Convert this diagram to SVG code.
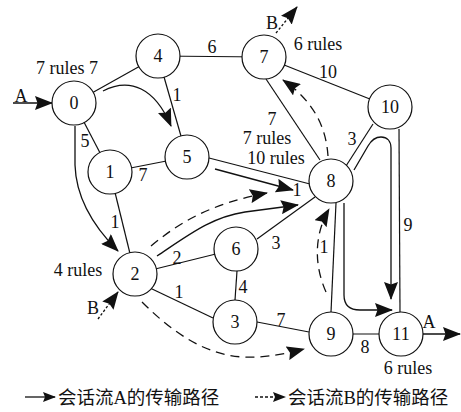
<svg xmlns="http://www.w3.org/2000/svg" width="461" height="412" viewBox="0 0 461 412">
  <style>
    .edge { stroke: #111; stroke-width: 1.2; fill: none; }
    .pa { stroke: #111; stroke-width: 1.3; fill: none; marker-end: url(#arw); }
    .pb { stroke: #111; stroke-width: 1.3; fill: none; stroke-dasharray: 9 6; marker-end: url(#arw); }
    .pbd { stroke: #111; stroke-width: 1.3; fill: none; stroke-dasharray: 2.5 2; marker-end: url(#arw); }
    .node circle { fill: #fff; stroke: #111; stroke-width: 1.2; }
    text { font-family: "Liberation Serif", "DejaVu Serif", "Noto Sans CJK SC", serif; font-size: 18px; fill: #111; }
    .node text { text-anchor: middle; }
    .lbl { text-anchor: middle; }
    .legend text { font-size: 18.5px; }
  </style>
  <defs>
    <marker id="arw" viewBox="0 0 18 14" refX="17" refY="7" markerWidth="18" markerHeight="14" orient="auto" markerUnits="userSpaceOnUse">
      <path d="M0,0 L18,7 L0,14 L2.5,7 z" fill="#111"/>
    </marker>
    <marker id="arwS" viewBox="0 0 13 10" refX="12" refY="5" markerWidth="13" markerHeight="10" orient="auto" markerUnits="userSpaceOnUse">
      <path d="M0,0 L13,5 L0,10 L2,5 z" fill="#111"/>
    </marker>
  </defs>

  <!-- links between routers -->
  <g id="edges">
    <line class="edge" x1="74" y1="103" x2="158" y2="56"/>
    <line class="edge" x1="158" y1="56" x2="264" y2="57"/>
    <line class="edge" x1="158" y1="56" x2="187" y2="157"/>
    <line class="edge" x1="74" y1="103" x2="110" y2="172"/>
    <line class="edge" x1="110" y1="172" x2="187" y2="157"/>
    <line class="edge" x1="110" y1="172" x2="135" y2="274"/>
    <line class="edge" x1="264" y1="57" x2="390" y2="107"/>
    <line class="edge" x1="266" y1="79" x2="320" y2="160"/>
    <line class="edge" x1="209" y1="158" x2="310" y2="184"/>
    <line class="edge" x1="373" y1="124" x2="346" y2="166"/>
    <line class="edge" x1="399" y1="129" x2="400" y2="312"/>
    <line class="edge" x1="135" y1="274" x2="236" y2="249"/>
    <line class="edge" x1="257" y1="239" x2="315" y2="197"/>
    <line class="edge" x1="237" y1="271" x2="235" y2="300"/>
    <line class="edge" x1="150" y1="288" x2="213" y2="318"/>
    <line class="edge" x1="257" y1="322" x2="309" y2="332"/>
    <line class="edge" x1="336" y1="203" x2="331" y2="312"/>
    <line class="edge" x1="331" y1="334" x2="401" y2="334"/>
  </g>

  <!-- session A routes (solid) -->
  <g id="flowA">
    <path class="pa" d="M13,103 L52,103"/>
    <path class="pa" d="M103,91 C130,77 155,88 171,126"/>
    <path class="pa" d="M75,126 L75,165 C76,198 95,228 118,251"/>
    <path class="pa" d="M215,169 L293,190"/>
    <path class="pa" d="M157,256 C190,234 212,217 245,212 L298,205"/>
    <path class="pa" d="M354,170 L368,146 C372,139 376,137 381,137 C387,137 391,141 391,148 L391,299"/>
    <path class="pa" d="M344,203 L344,295 C344,305 350,310 360,310 L392,310"/>
    <path class="pa" d="M423,334 L460,334"/>
  </g>

  <!-- session B routes (dashed) -->
  <g id="flowB">
    <path class="pbd" d="M98,319 L118,292"/>
    <path class="pb" d="M151,246 C180,222 210,204 267,193"/>
    <path class="pb" d="M142,302 C172,332 205,355 243,357 C265,358 285,354 304,349"/>
    <path class="pb" d="M326,292 C314,265 314,235 329,209"/>
    <path class="pb" d="M328,156 C326,125 312,100 283,80"/>
    <path class="pbd" d="M276,33 L297,7"/>
  </g>

  <!-- routers -->
  <g id="n0" class="node"><circle cx="74" cy="103" r="22"/><text x="74" y="109">0</text></g>
  <g id="n1" class="node"><circle cx="110" cy="172" r="22"/><text x="110" y="178">1</text></g>
  <g id="n2" class="node"><circle cx="135" cy="274" r="22"/><text x="135" y="280">2</text></g>
  <g id="n3" class="node"><circle cx="235" cy="322" r="22"/><text x="235" y="328">3</text></g>
  <g id="n4" class="node"><circle cx="158" cy="56" r="22"/><text x="158" y="62">4</text></g>
  <g id="n5" class="node"><circle cx="187" cy="157" r="22"/><text x="187" y="163">5</text></g>
  <g id="n6" class="node"><circle cx="236" cy="249" r="22"/><text x="236" y="255">6</text></g>
  <g id="n7" class="node"><circle cx="264" cy="57" r="22"/><text x="264" y="63">7</text></g>
  <g id="n8" class="node"><circle cx="331" cy="181" r="22"/><text x="331" y="187">8</text></g>
  <g id="n9" class="node"><circle cx="331" cy="334" r="22"/><text x="331" y="340">9</text></g>
  <g id="n10" class="node"><circle cx="390" cy="107" r="22"/><text x="390" y="113">10</text></g>
  <g id="n11" class="node"><circle cx="401" cy="334" r="22"/><text x="401" y="340">11</text></g>

  <!-- weights, rule counts and flow tags -->
  <g id="labels">
    <text class="lbl" x="67" y="74">7 rules 7</text>
    <text class="lbl" x="212" y="53">6</text>
    <text class="lbl" x="177" y="101">1</text>
    <text class="lbl" x="85" y="147">5</text>
    <text class="lbl" x="143" y="181">7</text>
    <text class="lbl" x="115" y="228">1</text>
    <text class="lbl" x="328" y="78">10</text>
    <text class="lbl" x="318" y="50">6 rules</text>
    <text class="lbl" x="272" y="29">B</text>
    <text class="lbl" x="272" y="125">7</text>
    <text class="lbl" x="267" y="144">7 rules</text>
    <text class="lbl" x="276" y="164">10 rules</text>
    <text class="lbl" x="352" y="145">3</text>
    <text class="lbl" x="408" y="231">9</text>
    <text class="lbl" x="297" y="196">1</text>
    <text class="lbl" x="276" y="249">3</text>
    <text class="lbl" x="324" y="253">1</text>
    <text class="lbl" x="177" y="264">2</text>
    <text class="lbl" x="78" y="276">4 rules</text>
    <text class="lbl" x="179" y="298">1</text>
    <text class="lbl" x="243" y="293">4</text>
    <text class="lbl" x="93" y="314">B</text>
    <text class="lbl" x="281" y="326">7</text>
    <text class="lbl" x="365" y="353">8</text>
    <text class="lbl" x="429" y="328">A</text>
    <text class="lbl" x="408" y="374">6 rules</text>
    <text class="lbl" x="21" y="102">A</text>
  </g>

  <!-- key -->
  <g id="legend" class="legend">
    <line x1="25" y1="397" x2="55" y2="397" stroke="#111" stroke-width="1.3" marker-end="url(#arwS)"/>
    <text x="58" y="404">会话流A的传输路径</text>
    <line x1="255" y1="397" x2="285" y2="397" stroke="#111" stroke-width="1.3" stroke-dasharray="3 2" marker-end="url(#arwS)"/>
    <text x="288" y="404">会话流B的传输路径</text>
  </g>
</svg>
